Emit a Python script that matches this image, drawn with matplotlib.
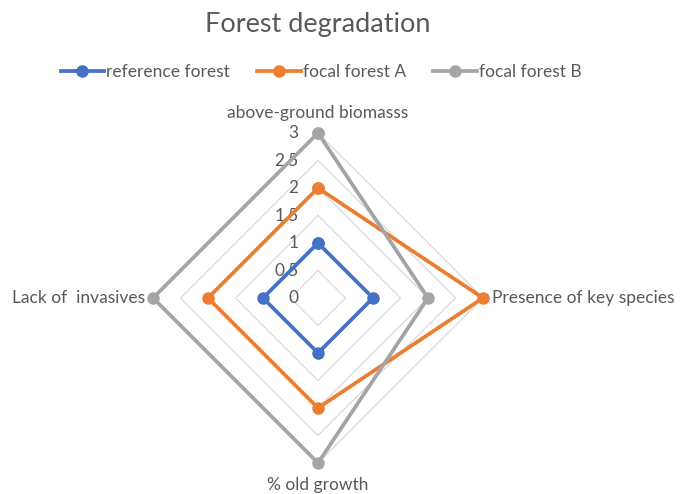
import numpy as np
import matplotlib.pyplot as plt

# radar chart - forest degradation
categories = ['above-ground biomasss', 'Presence of key species', '% old growth', 'Lack of  invasives']
reference = [1, 1, 1, 1]
focal_a = [2, 3, 2, 2]
focal_b = [3, 2, 3, 3]
levels = [0.5, 1, 1.5, 2, 2.5, 3]
tick_labels = ['0', '0.5', '1', '1.5', '2', '2.5', '3']

plt.rcParams['font.family'] = ['Lato', 'DejaVu Sans']
txt = '#595959'

fig = plt.figure(figsize=(6.86, 4.94), dpi=100)
ax = fig.add_axes([153/686, 31/494, 330/686, 330/494], projection='polar')
ax.set_theta_offset(np.pi/2)
ax.set_theta_direction(-1)
ax.set_ylim(0, 3)
ax.grid(False)
ax.spines['polar'].set_visible(False)
ax.set_xticks([])
ax.set_yticks([])
ax.patch.set_alpha(0)

ang = np.linspace(0, 2*np.pi, len(categories), endpoint=False)
ang_c = np.append(ang, ang[0])

for lv in levels:
    ax.plot(ang_c, [lv]*len(ang_c), color='#d9d9d9', lw=0.9, zorder=1, clip_on=False)

series = [('reference forest', reference, '#4472C4'),
          ('focal forest A', focal_a, '#ED7D31'),
          ('focal forest B', focal_b, '#A5A5A5')]
for name, vals, c in series:
    v = list(vals) + [vals[0]]
    ax.plot(ang_c, v, color=c, lw=2.7, marker='o', ms=8, label=name, zorder=3,
            clip_on=False)

# value ticks along the top axis
for i, t in enumerate(tick_labels):
    ax.annotate(t, xy=(0, i*0.5), xytext=(-14, 0), textcoords='offset points',
                ha='right', va='center', fontsize=12.5, color=txt, zorder=2)

# category labels
offs = [(0, 9, 'center', 'bottom'), (6.5, 0, 'left', 'center'),
        (0, -10, 'center', 'top'), (-6, 0, 'right', 'center')]
for a, cat, (dx, dy, ha, va) in zip(ang, categories, offs):
    ax.annotate(cat, xy=(a, 3), xytext=(dx, dy), textcoords='offset points',
                ha=ha, va=va, fontsize=12.5, color=txt)

fig.suptitle('Forest degradation', x=318/686, y=0.975, fontsize=19.5, color=txt)
fig.legend(loc='center', bbox_to_anchor=(321/686, 1 - 72/494), ncol=3, frameon=False,
           fontsize=12.5, labelcolor=txt, handlelength=2.5, handletextpad=0.1,
           columnspacing=1.6)

fig.savefig('out.png', dpi=100)
